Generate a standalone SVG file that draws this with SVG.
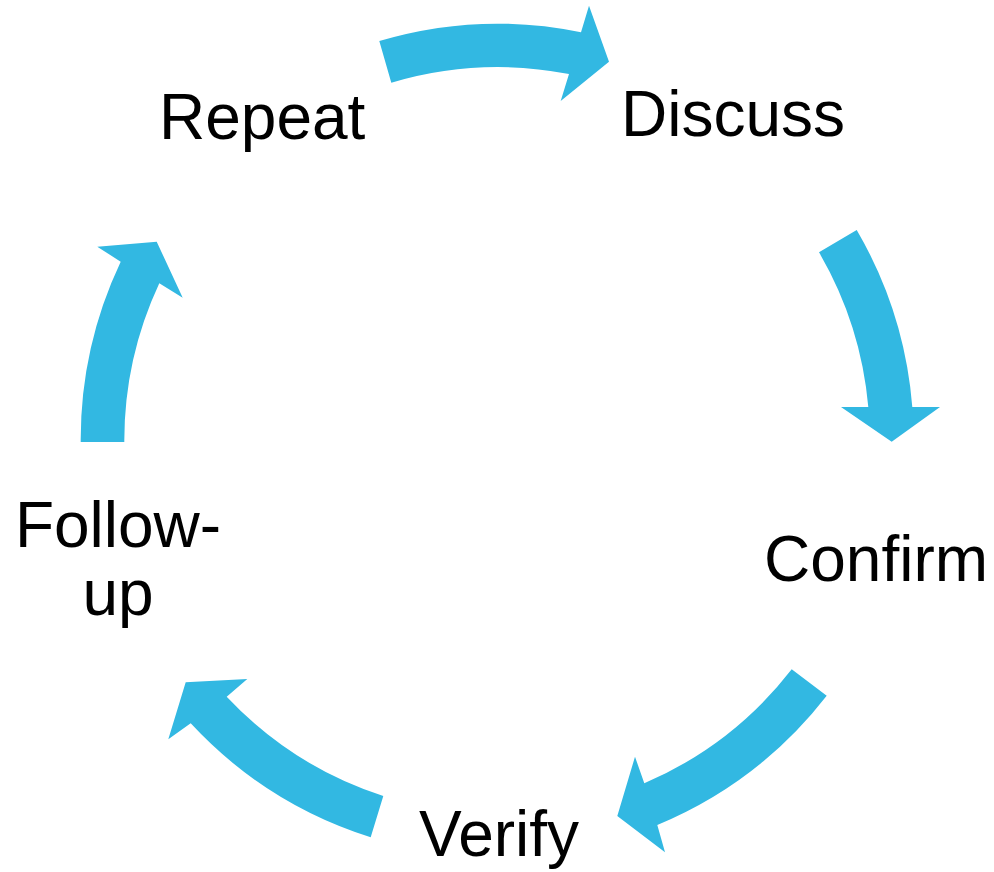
<svg xmlns="http://www.w3.org/2000/svg" width="994" height="872" viewBox="0 0 994 872">
<style>
.arrow{fill:#32B8E2;stroke:none}
.label{font-family:"Liberation Sans",Arial,sans-serif;font-size:64px;fill:#000}
</style>
<rect width="994" height="872" fill="#fff"/>
<g id="connectors">
<path class="arrow" d="M379.3,41 A416 416 0 0 1 581,32.3 L589,5.7 L609,61.7 L560.7,101 L569,74 A373 373 0 0 0 391.3,82.7 Z"/>
<path class="arrow" d="M856.7,230 A417 417 0 0 1 912.3,407 L940,407 L891.7,441.7 L841,407 L868.3,407 A373 373 0 0 0 819,252.3 Z"/>
<path class="arrow" d="M826.7,695.7 A417 417 0 0 1 657.3,825 L665,852.3 L617.3,816 L635,756.7 L644.3,783.3 A373 373 0 0 0 791.7,669.3 Z"/>
<path class="arrow" d="M370.7,837.3 A417 417 0 0 1 190.7,723.3 L168.3,739.3 L185.7,682.3 L247.3,679 L226.7,696.7 A373 373 0 0 0 383.3,796 Z"/>
<path class="arrow" d="M80.7,442 A416 416 0 0 1 120.7,261.7 L97.3,246.7 L156.7,241.7 L182.7,297.7 L159.3,283.3 A372 372 0 0 0 124.3,442 Z"/>
</g>
<g id="node-repeat"><text class="label" x="159" y="139">Repeat</text></g>
<g id="node-discuss"><text class="label" x="621" y="136">Discuss</text></g>
<g id="node-confirm"><text class="label" x="764" y="581">Confirm</text></g>
<g id="node-verify"><text class="label" x="419" y="856">Verify</text></g>
<g id="node-followup"><text class="label" text-anchor="middle" x="118"><tspan x="118" y="547">Follow-</tspan><tspan x="118" y="615">up</tspan></text></g>
</svg>
